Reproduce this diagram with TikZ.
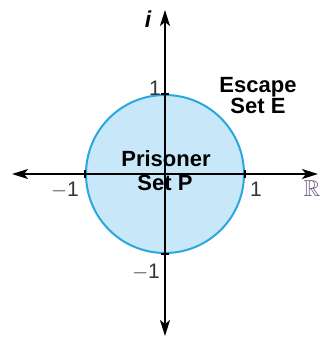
\documentclass[tikz,border=0pt]{standalone}
\usepackage{amssymb}
\usepackage{fontspec}
\setmainfont{Liberation Sans}
\usetikzlibrary{arrows.meta}
\definecolor{discfill}{HTML}{C8E7F9}
\definecolor{discline}{HTML}{2AA7DF}
\definecolor{numgray}{HTML}{353535}
\definecolor{realcol}{HTML}{6A5A7E}
\tikzset{
  axis/.style={line width=2pt, black, -{Stealth[length=16pt,width=10pt,inset=4pt]}},
  disc/.style={circle, draw=discline, fill=discfill, line width=2pt, minimum size=158pt, inner sep=0pt},
  tick/.style={line width=1.4pt, black},
  setlabel/.style={font=\bfseries\fontsize{22}{24}\selectfont, inner sep=0pt, anchor=base},
  num/.style={font=\fontsize{21}{22}\selectfont, text=numgray, inner sep=0pt, anchor=base},
}
\begin{document}
\begin{tikzpicture}[x=1pt,y=-1pt]
\useasboundingbox (0,0) rectangle (320,338);
\coordinate (O) at (165,174);
\coordinate (L) at (12,174);
\coordinate (R) at (318,174);
\coordinate (T) at (165,10);
\coordinate (B) at (165,336);
\node[disc] (P) at (O) {};
% ticks at unit points
\draw[tick] ([xshift=-4pt]P.north) -- ([xshift=4pt]P.north);
\draw[tick] ([xshift=-4pt]P.south) -- ([xshift=4pt]P.south);
\draw[tick] ([yshift=-4pt]P.east) -- ([yshift=4pt]P.east);
\draw[tick] ([yshift=-4pt]P.west) -- ([yshift=4pt]P.west);
% axes
\draw[axis] (O) -- (R);
\draw[axis] (O) -- (L);
\draw[axis] (O) -- (T);
\draw[axis] (O) -- (B);
% labels
\node[font=\bfseries\itshape\fontsize{23}{24}\selectfont, inner sep=0pt, anchor=base] (ilab) at (148,27) {i};
\node[num] (n1t) at (155,95) {1};
\node[num] (n1b) at (146,278) {$-$1};
\node[num] (n1l) at (65,196) {$-$1};
\node[num] (n1r) at (256,196) {1};
\node[font=\fontsize{23}{24}\selectfont, text=realcol, inner sep=0pt, anchor=base] (rlab) at (312,196) {$\mathbb{R}$};
\node[setlabel] (esc1) at (258,92) {Escape};
\node[setlabel] (esc2) at (258,113) {Set E};
\node[setlabel] (pr1) at (166,166) {Prisoner};
\node[setlabel] (pr2) at (165,190) {Set P};
\end{tikzpicture}
\end{document}
